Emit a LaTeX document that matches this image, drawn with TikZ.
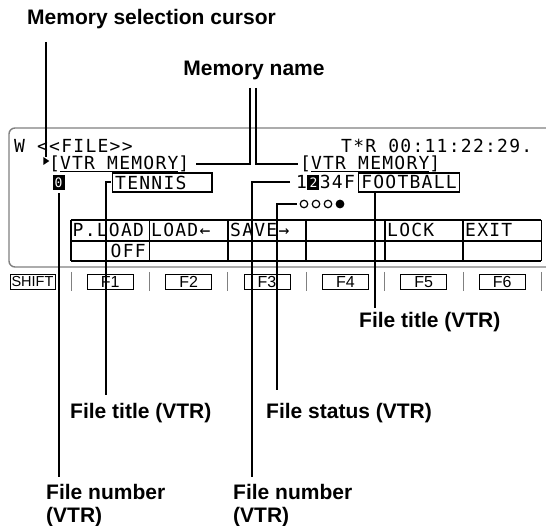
\documentclass[tikz,border=0pt]{standalone}
\usepackage{fontspec}
\setmainfont{Liberation Sans}
\newfontfamily\lcdfont[LetterSpace=7]{DejaVu Sans Mono}
\usetikzlibrary{shapes.geometric, positioning, calc}

\begin{document}
\begin{tikzpicture}[
    x=1pt, y=-1pt,
    lbl/.style={font=\bfseries\fontsize{21}{23}\selectfont, inner sep=0pt, align=left},
    lcd/.style={font=\lcdfont\fontsize{18}{18}\selectfont, inner sep=0pt, anchor=base west},
    framed/.style={lcd, draw, line width=1.4pt, anchor=west, inner xsep=2.5pt, minimum height=19pt},
    inv/.style={fill=black, text=white, inner sep=0pt, minimum width=12pt, minimum height=15pt, font=\lcdfont\fontsize{13}{13}\selectfont},
    key/.style={draw, line width=0.8pt, inner sep=0pt, minimum width=46pt, minimum height=15pt, text height=11.5pt, text depth=0pt, font=\fontsize{16}{16}\selectfont},
    lead/.style={line width=2pt}
]
    \useasboundingbox (0,0) rectangle (546,526);

    % screen frame
    \draw[gray, line width=1.4pt, rounded corners=6pt] (546,128) -- (9,128) -- (9,267) -- (546,267);

    % screen text
    \node[lcd] (mode) at (14,153) {W <<FILE>>};
    \node[lcd] (tcr) at (341,153) {T*R 00:11:22:29.};
    \node[isosceles triangle, isosceles triangle stretches, fill, inner sep=0pt, minimum width=8pt, minimum height=6pt] (cursor) at (45.5,161) {};
    \node[lcd] (memL) at (49,170) {[\underline{VTR MEMORY}]};
    \node[lcd] (memR) at (300,170) {[\underline{VTR MEMORY}]};
    \node[inv] (selL) at (58.5,182.5) {0};
    \node[framed] (tennis) at (112,182.5) {TENNIS\phantom{XX}};
    \node[lcd] (fn1) at (296,189) {1};
    \node[inv, right=0pt of fn1] (fnsel) {2};
    \node[lcd, anchor=west, right=0pt of fnsel] (fn34) {34F};
    \node[framed, right=3pt of fn34] (football) {FOOTBALL};
    \foreach \i in {1,2,3}
        \node[circle, draw, line width=1.2pt, minimum size=7.5pt, inner sep=0pt] (dot\i) at ({292+12*\i},204) {};
    \node[circle, draw, fill, line width=1.2pt, minimum size=7.5pt, inner sep=0pt] (dot4) at (340,204) {};

    % menu table
    \foreach \x in {0,...,6}
        \draw[line width=1.8pt] ({71+78.4*\x},220) -- ({71+78.4*\x},261);
    \foreach \y in {220,241,261}
        \draw[line width=1.8pt] (71,\y) -- (541.4,\y);
    \node[lcd] (pload) at (72.5,237) {P.LOAD};
    \node[lcd] (load) at (151,237) {LOAD←};
    \node[lcd] (save) at (230,237) {SAVE→};
    \node[lcd] (lock) at (387,237) {LOCK};
    \node[lcd] (exit) at (465,237) {EXIT};
    \node[lcd] (off) at (110.5,258) {OFF};

    % function keys
    \foreach \x in {0,...,6}
        \draw[gray, line width=1pt] ({71+78.4*\x},272) -- ({71+78.4*\x},291);
    \node[key, minimum width=45pt, text height=10.5pt, font=\fontsize{14.5}{14.5}\selectfont] (shift) at (32.5,281.5) {SHIFT};
    \foreach \k in {1,...,6}
        \node[key] (f\k) at ({71+78.4*\k-39.2},281.5) {F\k};

    % labels
    \node[lbl, anchor=west] (memsel) at (27,19) {Memory selection cursor};
    \node[lbl] (memname) at (254,70) {Memory name};
    \node[lbl, anchor=west] (ftitleR) at (359,322) {File title (VTR)};
    \node[lbl, anchor=west] (ftitleL) at (70,413) {File title (VTR)};
    \node[lbl, anchor=west] (fstatus) at (266,413) {File status (VTR)};
    \node[lbl, anchor=north west] (fnumL) at (46,484) {File number\\(VTR)};
    \node[lbl, anchor=north west] (fnumR) at (233,484) {File number\\(VTR)};

    % leader lines
    \coordinate (memselTop) at (45,42);
    \coordinate (mnL) at (250,88);
    \coordinate (mnR) at (255.5,88);
    \coordinate (fnumLtop) at (58.5,477);
    \coordinate (ftLtop) at (105.5,395);
    \coordinate (fnRtop) at (252,477);
    \coordinate (fsTop) at (277,390);
    \coordinate (ftRtop) at (375,308);
    \draw[lead] (cursor.north |- memselTop) -- ([yshift=1pt]cursor.north);
    \draw[lead] (mnL) |- ([xshift=6pt]memL.east);
    \draw[lead] (mnR) |- ([xshift=-2pt]memR.west);
    \draw[lead] ([yshift=-3pt]selL.south) -- (fnumLtop);
    \draw[lead] ([xshift=-1pt]tennis.west) -| (ftLtop);
    \draw[lead] ([xshift=-6pt]fn1.west) -| (fnRtop);
    \draw[lead] ([xshift=-3pt]dot1.west) -| (fsTop);
    \draw[lead] (football.south -| ftRtop) -- (ftRtop);
\end{tikzpicture}
\end{document}
